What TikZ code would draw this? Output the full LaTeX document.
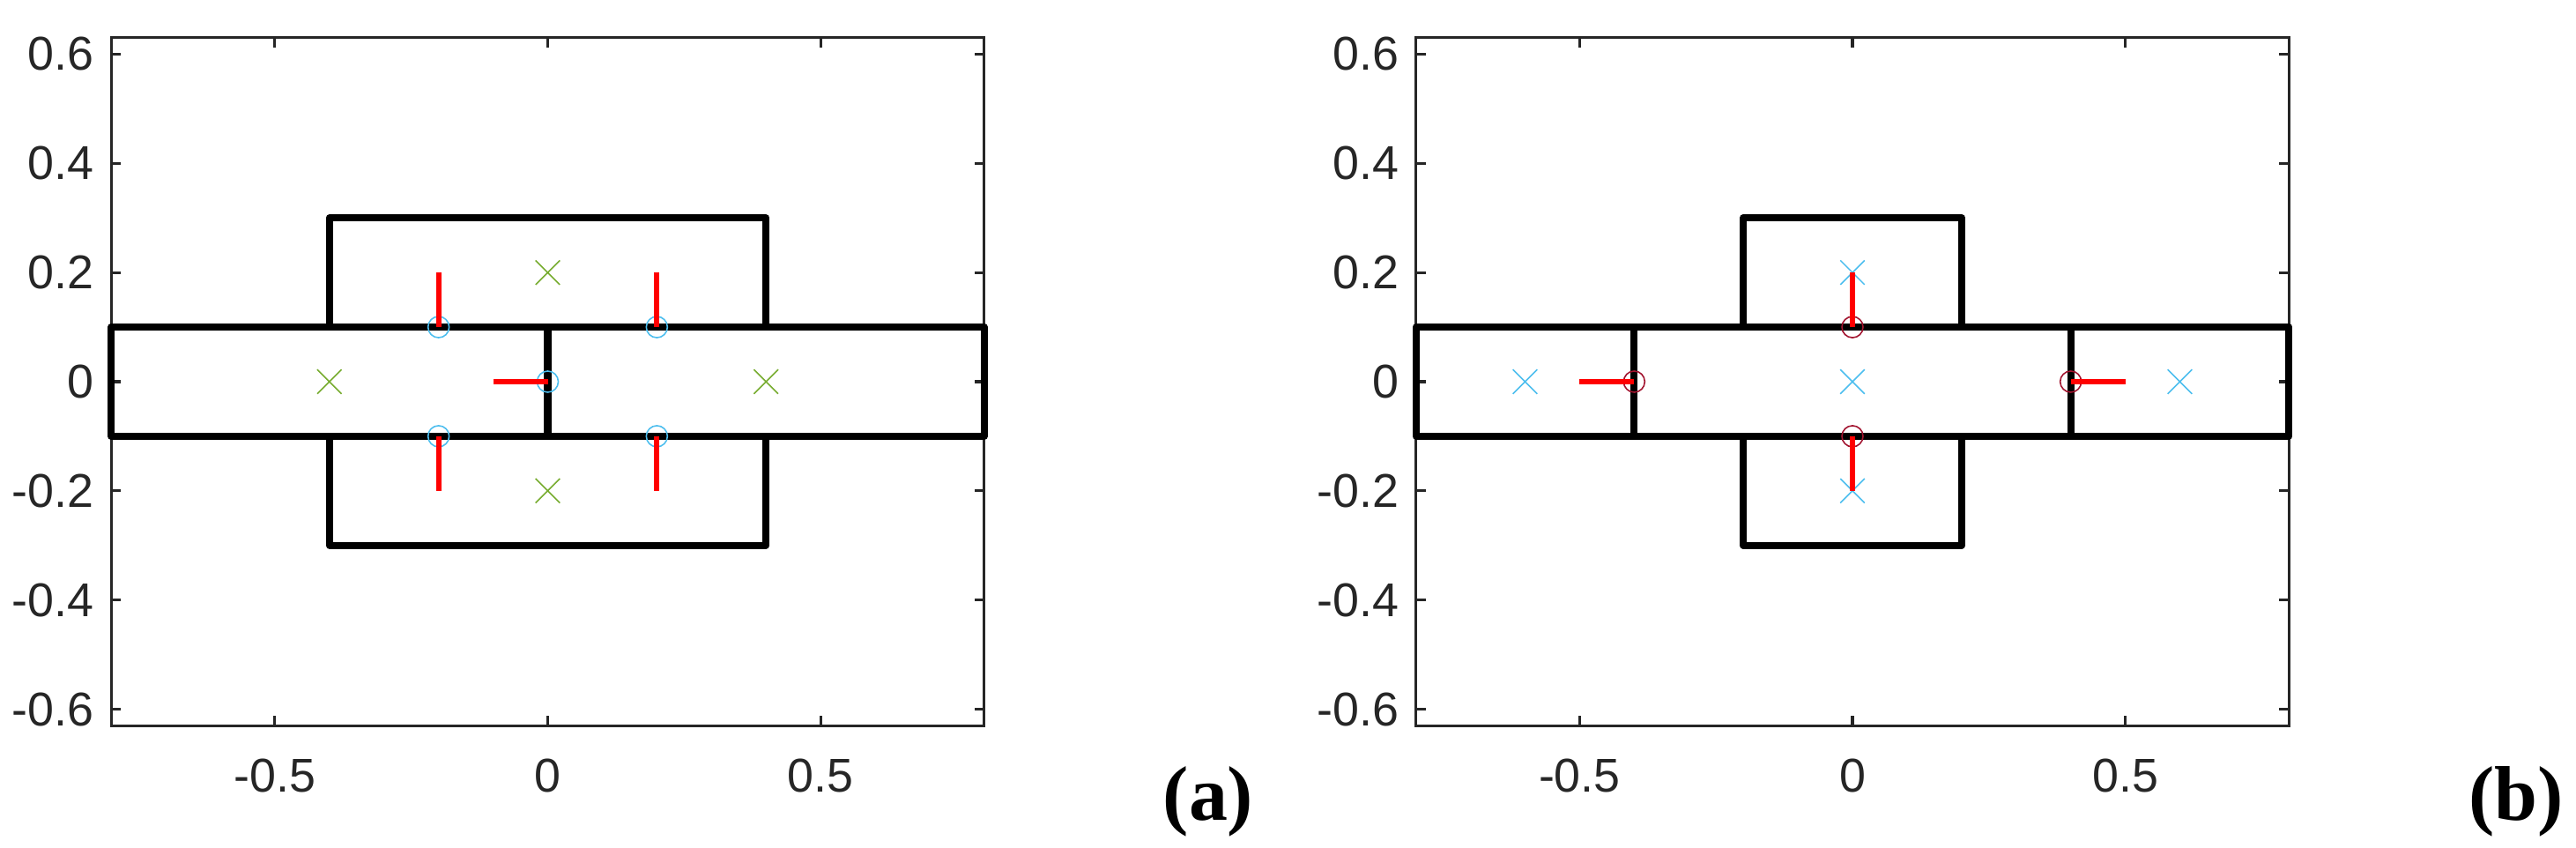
\documentclass[tikz,border=0pt]{standalone}
\usepackage{fontspec}
\setmainfont{Liberation Sans}
\newfontfamily\labfont{Liberation Serif}
\usetikzlibrary{shapes.misc}
\definecolor{axgray}{HTML}{262626}
\definecolor{mgreen}{HTML}{77AC30}
\definecolor{mblue}{HTML}{4DBEEE}
\definecolor{mdred}{HTML}{A2142F}
\tikzset{
  axline/.style={draw=axgray, line width=0.9pt},
  wall/.style={draw=black, line width=2.3pt, line join=round},
  force/.style={draw=red, line width=1.7pt},
  ticklab/.style={font=\fontsize{15.3}{16}\selectfont, text=axgray, inner sep=0pt},
  sublab/.style={font=\labfont\bfseries\fontsize{25}{27}\selectfont, inner sep=0pt},
  xmark/.style={cross out, draw=#1, line width=0.45pt, minimum size=0.26cm, inner sep=0pt},
  omark/.style={circle, draw=#1, line width=0.45pt, minimum size=0.24cm, inner sep=0pt},
  plotscope/.style={x=6.192cm, y=6.192cm},
}
\newcommand{\myframe}{%
  \draw[axline] (-0.8,-0.63) rectangle (0.8,0.63);
  \foreach \v in {-0.6,-0.4,-0.2,0,0.2,0.4,0.6}{
    \draw[axline] (-0.8,\v) -- ++(0.11cm,0);
    \draw[axline] (0.8,\v) -- ++(-0.11cm,0);
  }
  \foreach \v in {-0.5,0,0.5}{
    \draw[axline] (\v,-0.63) -- ++(0,0.11cm);
    \draw[axline] (\v,0.63) -- ++(0,-0.11cm);
  }
  \foreach \v/\t in {-0.6/-0.6,-0.4/-0.4,-0.2/-0.2,0/0,0.2/0.2,0.4/0.4,0.6/0.6}{
    \node[ticklab, anchor=east] at ([xshift=-0.19cm]-0.8,\v) {\t};
  }
  \foreach \v/\t in {-0.5/-0.5,0/0,0.5/0.5}{
    \node[ticklab, anchor=north] at ([yshift=-0.37cm]\v,-0.63) {\t};
  }
}
\begin{document}
\begin{tikzpicture}
\useasboundingbox (0,0) rectangle (29.23,9.62);
% ---------- (a) ----------
\begin{scope}[plotscope, shift={(6.215cm,5.29cm)}]
  \myframe
  \draw[wall] (-0.8,-0.1) rectangle (0,0.1);
  \draw[wall] (0,-0.1) rectangle (0.8,0.1);
  \draw[wall] (-0.4,0.1) rectangle (0.4,0.3);
  \draw[wall] (-0.4,-0.3) rectangle (0.4,-0.1);
  \node[xmark=mgreen] (ga) at (0,0.2) {};
  \node[xmark=mgreen] (gb) at (-0.4,0) {};
  \node[xmark=mgreen] (gc) at (0.4,0) {};
  \node[xmark=mgreen] (gd) at (0,-0.2) {};
  \node[omark=mblue] (ca) at (-0.2,0.1) {};
  \node[omark=mblue] (cb) at (0.2,0.1) {};
  \node[omark=mblue] (cc) at (0,0) {};
  \node[omark=mblue] (cd) at (-0.2,-0.1) {};
  \node[omark=mblue] (ce) at (0.2,-0.1) {};
  \coordinate (fa) at (-0.2,0.2);
  \coordinate (fb) at (0.2,0.2);
  \coordinate (fc) at (-0.1,0);
  \coordinate (fd) at (-0.2,-0.2);
  \coordinate (fe) at (0.2,-0.2);
  \draw[force] (ca.center) -- (fa);
  \draw[force] (cb.center) -- (fb);
  \draw[force] (cc.center) -- (fc);
  \draw[force] (cd.center) -- (fd);
  \draw[force] (ce.center) -- (fe);
\end{scope}
\node[sublab] (la) at (13.71,0.53) {(a)};
% ---------- (b) ----------
\begin{scope}[plotscope, shift={(21.02cm,5.29cm)}]
  \myframe
  \draw[wall] (-0.8,-0.1) rectangle (-0.4,0.1);
  \draw[wall] (-0.4,-0.1) rectangle (0.4,0.1);
  \draw[wall] (0.4,-0.1) rectangle (0.8,0.1);
  \draw[wall] (-0.2,0.1) rectangle (0.2,0.3);
  \draw[wall] (-0.2,-0.3) rectangle (0.2,-0.1);
  \node[xmark=mblue] (xa) at (-0.6,0) {};
  \node[xmark=mblue] (xb) at (0,0.2) {};
  \node[xmark=mblue] (xc) at (0,0) {};
  \node[xmark=mblue] (xd) at (0,-0.2) {};
  \node[xmark=mblue] (xe) at (0.6,0) {};
  \node[omark=mdred] (ra) at (-0.4,0) {};
  \node[omark=mdred] (rb) at (0,0.1) {};
  \node[omark=mdred] (rc) at (0,-0.1) {};
  \node[omark=mdred] (rd) at (0.4,0) {};
  \coordinate (ha) at (-0.5,0);
  \coordinate (hd) at (0.5,0);
  \draw[force] (ra.center) -- (ha);
  \draw[force] (rb.center) -- (xb.center);
  \draw[force] (rc.center) -- (xd.center);
  \draw[force] (rd.center) -- (hd);
\end{scope}
\node[sublab] (lb) at (28.55,0.53) {(b)};
\end{tikzpicture}
\end{document}
